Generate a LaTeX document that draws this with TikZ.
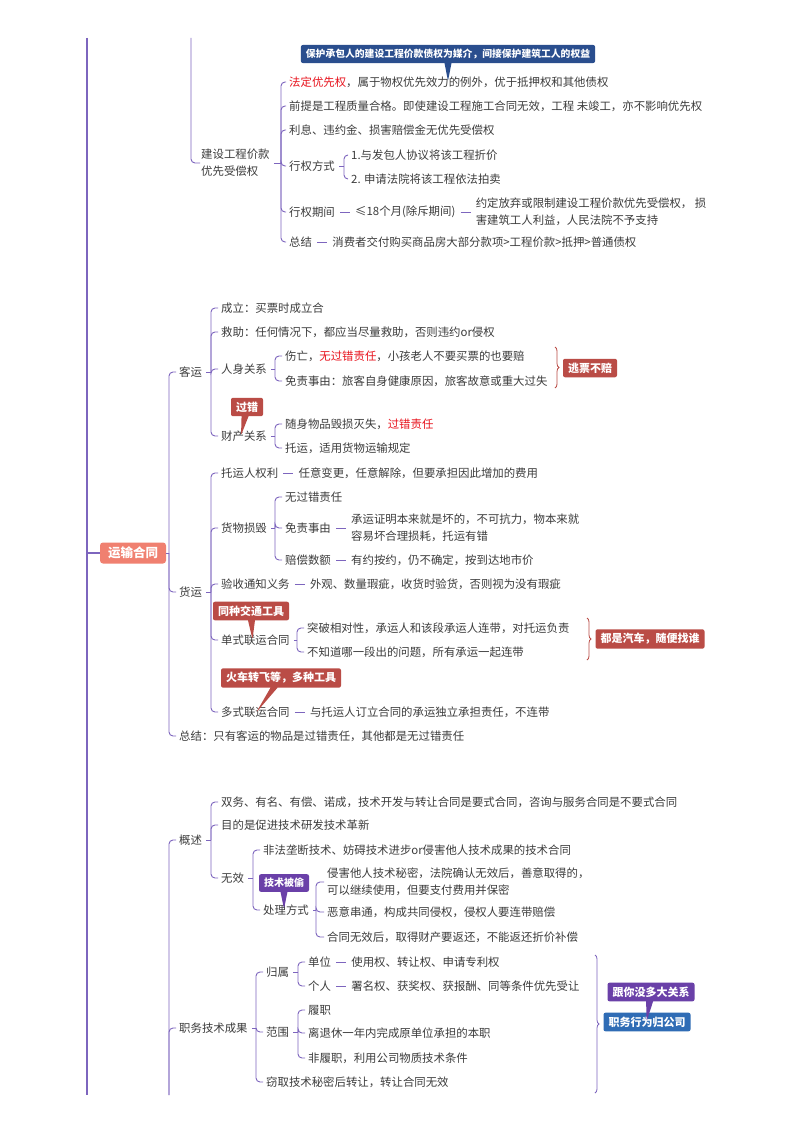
\documentclass[tikz,border=0pt]{standalone}
\usepackage{fontspec}
\newfontfamily\cjk{Noto Sans CJK SC}
\usetikzlibrary{positioning, shapes.callouts, decorations.pathreplacing}

\definecolor{linepurple}{RGB}{125,101,190}
\definecolor{txtgray}{RGB}{60,60,60}
\definecolor{hotred}{RGB}{232,20,30}
\definecolor{tagred}{RGB}{186,76,70}
\definecolor{rootsalmon}{RGB}{240,128,112}
\definecolor{navyblue}{RGB}{42,78,142}
\definecolor{tagblue}{RGB}{47,108,181}
\definecolor{tagpurple}{RGB}{106,64,168}

\begin{document}
\begin{tikzpicture}[
    x=1pt, y=-1pt,
    node distance=18pt,
    item/.style={anchor=west, inner sep=1pt, text=txtgray, align=left, font=\cjk\fontsize{11.4}{17}\selectfont},
    rootbox/.style={rectangle, rounded corners=3pt, fill=rootsalmon, text=white, minimum width=66pt, minimum height=21pt, font=\cjk\bfseries\fontsize{12.5}{14}\selectfont},
    tag/.style={rectangle, rounded corners=2pt, fill=tagred, text=white, inner xsep=5pt, inner ysep=4pt, font=\cjk\bfseries\fontsize{11}{13}\selectfont},
    note/.style={rectangle callout, rounded corners=2pt, fill=tagred, text=white, inner xsep=5pt, inner ysep=4pt, callout pointer width=7pt, font=\cjk\bfseries\fontsize{11}{13}\selectfont},
    branch/.style={draw=linepurple, line width=0.9pt, rounded corners=4pt},
    trunk/.style={draw=linepurple, line width=1.3pt},
    bar/.style={draw=linepurple, line width=1pt, shorten <=4pt, shorten >=4pt},
    curly/.style={decorate, decoration={brace, amplitude=4pt}, line width=0.8pt}
]
\fill[white] (0,0) rectangle (800,1132);
\useasboundingbox (0,0) rectangle (800,1132);

% trunk on the left
\coordinate (maintop) at (87,38);
\coordinate (mainbot) at (87,1095);
\draw[trunk] (maintop) -- (mainbot);

% ---- 建设工程价款优先受偿权 ----
\coordinate (jstop) at (191,38);
\node (js) [item] at (200,163) {建设工程价款\\优先受偿权};
\node (pr1) [item] at (288,82) {\textcolor{hotred}{法定优先权}，属于物权优先效力的例外，优于抵押权和其他债权};
\node (pr2) [item] at (288,106) {前提是工程质量合格。即使建设工程施工合同无效，工程 未竣工，亦不影响优先权};
\node (pr3) [item] at (288,130) {利息、违约金、损害赔偿金无优先受偿权};
\node (xq) [item] at (288,166) {行权方式};
\node (fs1) [item] at (350,155) {1.与发包人协议将该工程折价};
\node (fs2) [item] at (350,179) {2. 申请法院将该工程依法拍卖};
\node (qj) [item] at (288,212) {行权期间};
\node (qj2) [item, right=of qj] {≤18个月(除斥期间)};
\node (qj3) [item, right=of qj2] {约定放弃或限制建设工程价款优先受偿权， 损\\害建筑工人利益，人民法院不予支持};
\node (zj1) [item] at (288,242) {总结};
\node (zj2) [item, right=of zj1] {消费者交付购买商品房大部分款项>工程价款>抵押>普通债权};
\node (bhcb) [note, fill=navyblue, font=\cjk\bfseries\fontsize{9.8}{12}\selectfont, callout relative pointer={(0pt,-18pt)}] at (448,54) {保护承包人的建设工程价款债权为媒介，间接保护建筑工人的权益};

\coordinate (jsb) at (281,163);
\coordinate (xqb) at (344,166);
\draw[branch] (jstop) |- (js.west);
\draw[branch, shorten <=3pt] (js.east) -- (jsb);
\foreach \c in {pr1,pr2,pr3,xq,qj,zj1}
    \draw[branch, shorten >=2pt] (jsb) |- (\c.west);
\draw[branch, shorten <=3pt] (xq.east) -- (xqb);
\foreach \c in {fs1,fs2}
    \draw[branch, shorten >=2pt] (xqb) |- (\c.west);
\draw[bar] (qj) -- (qj2);
\draw[bar] (qj2) -- (qj3);
\draw[bar] (zj1) -- (zj2);

% ---- 运输合同 ----
\node (root) [rootbox] at (133,553) {运输合同};
\coordinate (rootb) at (169,553);
\draw[trunk] (root.west) -- (root.west -| maintop);
\draw[branch] (root.east) -- (rootb);

% 客运
\node (ky) [item] at (178,372) {客运};
\node (kcl) [item] at (220,308) {成立：买票时成立合};
\node (kjz) [item] at (220,332) {救助：任何情况下，都应当尽量救助，否则违约or侵权};
\node (krs) [item] at (220,369) {人身关系};
\node (krs1) [item] at (284,356) {伤亡，\textcolor{hotred}{无过错责任}，小孩老人不要买票的也要赔};
\node (krs2) [item] at (284,381) {免责事由：旅客自身健康原因，旅客故意或重大过失};
\node (kcc) [item] at (220,436) {财产关系};
\node (kcc1) [item] at (284,424) {随身物品毁损灭失，\textcolor{hotred}{过错责任}};
\node (kcc2) [item] at (284,448) {托运，适用货物运输规定};
\node (tpbz) [tag] at (590,368) {逃票不赔};
\node (gcnote) [note, callout relative pointer={(-4pt,-19pt)}] at (247,407) {过错};

\coordinate (kyb) at (211,372);
\coordinate (krsb) at (275,369);
\coordinate (kccb) at (275,436);
\draw[branch, shorten <=3pt] (ky.east) -- (kyb);
\foreach \c in {kcl,kjz,krs,kcc}
    \draw[branch, shorten >=2pt] (kyb) |- (\c.west);
\draw[branch, shorten <=3pt] (krs.east) -- (krsb);
\foreach \c in {krs1,krs2}
    \draw[branch, shorten >=2pt] (krsb) |- (\c.west);
\draw[branch, shorten <=3pt] (kcc.east) -- (kccb);
\foreach \c in {kcc1,kcc2}
    \draw[branch, shorten >=2pt] (kccb) |- (\c.west);
\coordinate (tpbzt) at (555,347);
\coordinate (tpbzb) at (555,388);
\draw[curly, tagred] (tpbzt) -- (tpbzb);

% 货运
\node (hy) [item] at (178,592) {货运};
\node (ty) [item] at (220,473) {托运人权利};
\node (ty2) [item, right=of ty] {任意变更，任意解除，但要承担因此增加的费用};
\node (hs) [item] at (220,528) {货物损毁};
\node (hs1) [item] at (284,497) {无过错责任};
\node (hs2) [item] at (284,528) {免责事由};
\node (hs3) [item, right=of hs2] {承运证明本来就是坏的，不可抗力，物本来就\\容易坏合理损耗，托运有错};
\node (hs4) [item] at (284,560) {赔偿数额};
\node (hs5) [item, right=of hs4] {有约按约，仍不确定，按到达地市价};
\node (ys) [item] at (220,584) {验收通知义务};
\node (ys2) [item, right=of ys] {外观、数量瑕疵，收货时验货，否则视为没有瑕疵};
\node (ds) [item] at (220,640) {单式联运合同};
\node (ds1) [item] at (306,628) {突破相对性，承运人和该段承运人连带，对托运负责};
\node (ds2) [item] at (306,652) {不知道哪一段出的问题，所有承运一起连带};
\node (dms) [item] at (220,712) {多式联运合同};
\node (dms2) [item, right=of dms] {与托运人订立合同的承运独立承担责任，不连带};
\node (qcsj) [tag] at (650,639) {都是汽车，随便找谁};
\node (tzgj) [note, callout relative pointer={(1pt,-19pt)}] at (251,611) {同种交通工具};
\node (hczf) [note, callout relative pointer={(-18pt,-25pt)}] at (281,678) {火车转飞等，多种工具};

\coordinate (hyb) at (211,592);
\coordinate (hsb) at (275,528);
\coordinate (dsb) at (297,640);
\draw[branch, shorten <=3pt] (hy.east) -- (hyb);
\foreach \c in {ty,hs,ys,ds,dms}
    \draw[branch, shorten >=2pt] (hyb) |- (\c.west);
\draw[branch, shorten <=3pt] (hs.east) -- (hsb);
\foreach \c in {hs1,hs2,hs4}
    \draw[branch, shorten >=2pt] (hsb) |- (\c.west);
\draw[branch, shorten <=3pt] (ds.east) -- (dsb);
\foreach \c in {ds1,ds2}
    \draw[branch, shorten >=2pt] (dsb) |- (\c.west);
\draw[bar] (ty) -- (ty2);
\draw[bar] (hs2) -- (hs3);
\draw[bar] (hs4) -- (hs5);
\draw[bar] (ys) -- (ys2);
\draw[bar] (dms) -- (dms2);
\coordinate (qcsjt) at (587,618);
\coordinate (qcsjb) at (587,660);
\draw[curly, tagred] (qcsjt) -- (qcsjb);

\node (zj3) [item] at (178,736) {总结：只有客运的物品是过错责任，其他都是无过错责任};
\foreach \c in {ky,hy,zj3}
    \draw[branch, shorten >=2pt] (rootb) |- (\c.west);

% ---- 技术合同 ----
\coordinate (jsbot) at (169,1095);
\node (gs) [item] at (178,840) {概述};
\node (gs1) [item] at (220,802) {双务、有名、有偿、诺成，技术开发与转让合同是要式合同，咨询与服务合同是不要式合同};
\node (gs2) [item] at (220,825) {目的是促进技术研发技术革新};
\node (wx) [item] at (220,878) {无效};
\node (wx1) [item] at (262,850) {非法垄断技术、妨碍技术进步or侵害他人技术成果的技术合同};
\node (clfs) [item] at (262,910) {处理方式};
\node (cl1) [item] at (326,882) {侵害他人技术秘密，法院确认无效后，善意取得的，\\可以继续使用，但要支付费用并保密};
\node (cl2) [item] at (326,912) {恶意串通，构成共同侵权，侵权人要连带赔偿};
\node (cl3) [item] at (326,937) {合同无效后，取得财产要返还，不能返还折价补偿};
\node (jsbt) [note, fill=tagpurple, font=\cjk\bfseries\fontsize{10}{12}\selectfont, callout relative pointer={(0pt,-17pt)}] at (284,883) {技术被偷};

\node (zw) [item] at (178,1028) {职务技术成果};
\node (gsu) [item] at (265,972) {归属};
\node (dw) [item] at (307,962) {单位};
\node (dw2) [item, right=of dw] {使用权、转让权、申请专利权};
\node (gr) [item] at (307,986) {个人};
\node (gr2) [item, right=of gr] {署名权、获奖权、获报酬、同等条件优先受让};
\node (fw) [item] at (265,1032) {范围};
\node (fw1) [item] at (307,1010) {履职};
\node (fw2) [item] at (307,1033) {离退休一年内完成原单位承担的本职};
\node (fw3) [item] at (307,1058) {非履职，利用公司物质技术条件};
\node (qq) [item] at (265,1082) {窃取技术秘密后转让，转让合同无效};
\node (zwgs) [tag, fill=tagblue] at (647,1022) {职务行为归公司};
\node (gnmy) [note, fill=tagpurple, callout relative pointer={(-3pt,-20pt)}] at (651,992) {跟你没多大关系};

\coordinate (gsb) at (211,840);
\coordinate (wxb) at (253,878);
\coordinate (clb) at (316,910);
\coordinate (zwb) at (256,1028);
\coordinate (gsub) at (298,972);
\coordinate (fwb) at (298,1032);
\foreach \c in {gs,zw}
    \draw[branch, shorten >=2pt] (jsbot) |- (\c.west);
\draw[branch, shorten <=3pt] (gs.east) -- (gsb);
\foreach \c in {gs1,gs2,wx}
    \draw[branch, shorten >=2pt] (gsb) |- (\c.west);
\draw[branch, shorten <=3pt] (wx.east) -- (wxb);
\foreach \c in {wx1,clfs}
    \draw[branch, shorten >=2pt] (wxb) |- (\c.west);
\draw[branch, shorten <=3pt] (clfs.east) -- (clb);
\foreach \c in {cl1,cl2,cl3}
    \draw[branch, shorten >=2pt] (clb) |- (\c.west);
\draw[branch, shorten <=3pt] (zw.east) -- (zwb);
\foreach \c in {gsu,fw,qq}
    \draw[branch, shorten >=2pt] (zwb) |- (\c.west);
\draw[branch, shorten <=3pt] (gsu.east) -- (gsub);
\foreach \c in {dw,gr}
    \draw[branch, shorten >=2pt] (gsub) |- (\c.west);
\draw[branch, shorten <=3pt] (fw.east) -- (fwb);
\foreach \c in {fw1,fw2,fw3}
    \draw[branch, shorten >=2pt] (fwb) |- (\c.west);
\draw[bar] (dw) -- (dw2);
\draw[bar] (gr) -- (gr2);
\coordinate (zwgst) at (595,955);
\coordinate (zwgsb) at (595,1093);
\draw[curly, linepurple] (zwgst) -- (zwgsb);

\end{tikzpicture}
\end{document}
